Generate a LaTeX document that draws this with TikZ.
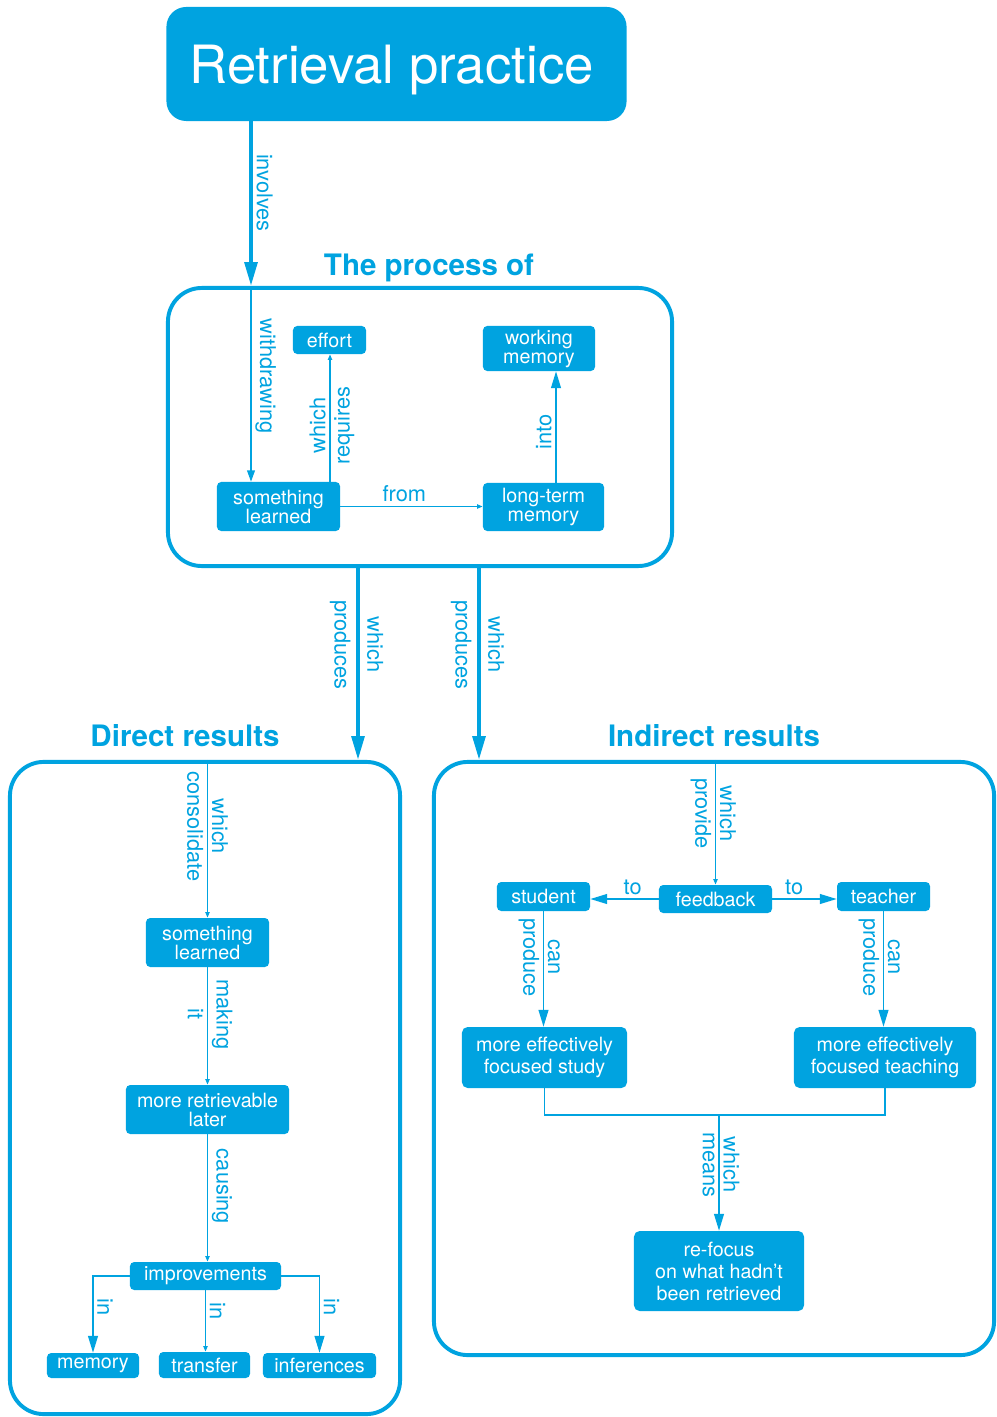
\documentclass[tikz,border=0pt]{standalone}
\usepackage{fontspec}
\setmainfont{TeX Gyre Heros}
\usetikzlibrary{arrows.meta}
\definecolor{rpblue}{RGB}{0,163,224}
\tikzset{
  concept/.style={draw=none,fill=rpblue,text=white,rounded corners=3pt,
            align=center,inner sep=0pt,font=\fontsize{14}{13.5}\selectfont},
  bigconcept/.style={concept,rounded corners=4pt,font=\fontsize{14}{15.6}\selectfont},
  area/.style={draw=rpblue,line width=2.8pt,rounded corners=24pt,inner sep=0pt},
  heading/.style={text=rpblue,anchor=base,font=\fontsize{21}{24}\selectfont\bfseries},
  lab/.style={text=rpblue,inner sep=2.5pt,font=\fontsize{15.5}{17}\selectfont},
  downright/.style={lab,rotate=-90,anchor=south},
  downleft/.style={lab,rotate=-90,anchor=north},
  upright/.style={lab,rotate=90,anchor=north},
  upleft/.style={lab,rotate=90,anchor=south},
  link/.style={-{Triangle[length=4pt,width=3pt]},rpblue,line width=1.1pt},
  linkmid/.style={-{Triangle[length=8pt,width=5.5pt]},rpblue,line width=1.1pt},
  linkbig/.style={-{Triangle[length=12pt,width=7pt]},rpblue,line width=1.1pt},
  mainarrow/.style={-{Triangle[length=17pt,width=9pt]},rpblue,line width=2.8pt},
  joint/.style={rpblue,line width=1.1pt},
}
\begin{document}
\begin{tikzpicture}[x=0.025cm,y=-0.025cm]
  \useasboundingbox (0,0) rectangle (996,1417);
  \node[concept,rounded corners=14pt,minimum width=11.5cm,minimum height=2.85cm,text depth=0pt,
        font=\fontsize{37.5}{40}\selectfont] (retrieval) at (396.5,64) {Retrieval practice\hspace{7pt}};
  % group frames and their headings
  \node[area,minimum width=12.6cm,minimum height=6.95cm] (process) at (420,427) {};
  \node[area,minimum width=9.75cm,minimum height=16.3cm] (direct) at (205,1088) {};
  \node[area,minimum width=14cm,minimum height=14.825cm] (indirect) at (714,1058.5) {};
  \node[heading] (processhead) at (429,276) {The process of};
  \node[heading] (directhead) at (185,746) {Direct results};
  \node[heading] (indirecthead) at (714,746) {Indirect results};
  % process of retrieval
  \node[concept,minimum width=1.825cm,minimum height=0.7cm] (effort) at (329.5,340) {effort};
  \node[concept,minimum width=2.8cm,minimum height=1.125cm] (working) at (539,348.5) {working\\memory};
  \node[concept,minimum width=3.075cm,minimum height=1.225cm] (learnedP) at (278.5,506.5) {something\\learned};
  \node[concept,minimum width=3.025cm,minimum height=1.2cm] (longterm) at (543.5,507) {long-term\\memory};
  % direct results
  \node[concept,minimum width=3.075cm,minimum height=1.225cm] (learnedD) at (207.5,942.5) {something\\learned};
  \node[concept,minimum width=4.075cm,minimum height=1.225cm] (retrievable) at (207.5,1109.5) {more retrievable\\later};
  \node[concept,minimum width=3.775cm,minimum height=0.7cm] (improve) at (205.5,1276) {improvements};
  \node[concept,minimum width=2.3cm,minimum height=0.625cm] (memory) at (93,1365.5) {memory};
  \node[concept,minimum width=2.275cm,minimum height=0.65cm] (transfer) at (204.5,1365) {transfer};
  \node[concept,minimum width=2.825cm,minimum height=0.625cm] (inferences) at (319.5,1365.5) {inferences};
  % indirect results
  \node[concept,minimum width=2.825cm,minimum height=0.7cm] (feedback) at (715.5,899) {feedback};
  \node[concept,minimum width=2.325cm,minimum height=0.725cm] (student) at (543.5,896.5) {student};
  \node[concept,minimum width=2.325cm,minimum height=0.725cm] (teacher) at (883.5,896.5) {teacher};
  \node[bigconcept,minimum width=4.125cm,minimum height=1.525cm] (study) at (544.5,1057.5) {more effectively\\focused study};
  \node[bigconcept,minimum width=4.55cm,minimum height=1.525cm] (teaching) at (885,1057.5) {more effectively\\focused teaching};
  \node[bigconcept,minimum width=4.25cm,minimum height=2cm] (refocus) at (719,1271) {re-focus\\on what hadn’t\\been retrieved};
  \coordinate (merge) at (719,1115);
  % thick links between the groups
  \draw[mainarrow] (251,0 |- retrieval.south) -- node[downright,pos=0.435]{involves} (251,0 |- process.north);
  \draw[mainarrow] (358,0 |- process.south) -- node[downleft,pos=0.4,inner sep=4pt]{produces} node[downright,pos=0.4,inner sep=5pt]{which} (358,0 |- direct.north);
  \draw[mainarrow] (479,0 |- process.south) -- node[downleft,pos=0.4,inner sep=4pt]{produces} node[downright,pos=0.4,inner sep=5pt]{which} (479,0 |- indirect.north);
  % inside the process
  \draw[linkmid] (251,0 |- process.north) -- node[downright,pos=0.46]{withdrawing} (251,0 |- learnedP.north);
  \draw[link] (330,0 |- learnedP.north) -- node[upleft,pos=0.44]{which} node[upright,pos=0.44]{requires} (330,0 |- effort.south);
  \draw[link] (learnedP.east) -- node[lab,above,pos=0.45]{from} (learnedP.east -| longterm.west);
  \draw[linkbig] (556,0 |- longterm.north) -- node[upleft,pos=0.455]{into} (556,0 |- working.south);
  % direct chain
  \draw[link] (learnedD.north |- direct.north) -- node[downleft,pos=0.42]{consolidate} node[downright,pos=0.42]{which} (learnedD.north);
  \draw[link] (learnedD.south) -- node[downleft,pos=0.4]{it} node[downright,pos=0.4]{making} (retrievable.north);
  \draw[link] (retrievable.south) -- node[downright,pos=0.41]{causing} (retrievable.south |- improve.north);
  \draw[linkbig] (improve.west) -| node[downright,pos=0.7]{in} (memory.north);
  \draw[link] (improve.south) -- node[downright,pos=0.34]{in} (improve.south |- transfer.north);
  \draw[linkbig] (improve.east) -| node[downright,pos=0.7]{in} (inferences.north);
  % indirect chain
  \draw[link] (feedback.north |- indirect.north) -- node[downleft,pos=0.43]{provide} node[downright,pos=0.43]{which} (feedback.north);
  \draw[linkbig] (feedback.west) -- node[lab,above,pos=0.38]{to} (feedback.west -| student.east);
  \draw[linkbig] (feedback.east) -- node[lab,above,pos=0.34]{to} (feedback.east -| teacher.west);
  \draw[linkbig] (student.south) -- node[downleft,pos=0.4]{produce} node[downright,pos=0.4]{can} (student.south |- study.north);
  \draw[linkbig] (teacher.south) -- node[downleft,pos=0.4]{produce} node[downright,pos=0.4]{can} (teacher.south |- teaching.north);
  \draw[joint] (study.south) |- (merge) -| (teaching.south);
  \draw[linkbig] (merge) -- node[downleft,pos=0.43]{means} node[downright,pos=0.43]{which} (refocus.north);
\end{tikzpicture}
\end{document}
